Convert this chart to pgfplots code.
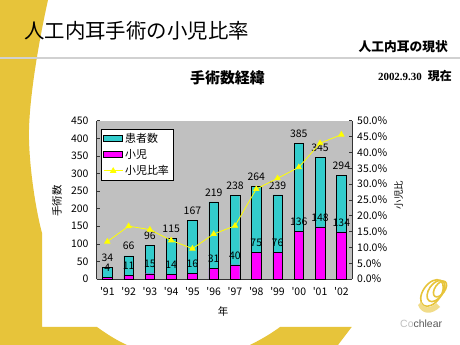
\documentclass[border=0pt]{standalone}
\usepackage{pgfplots}
\pgfplotsset{compat=1.18}
\usepackage{fontspec}
\setmainfont{Noto Sans CJK JP}
\newfontfamily\dateserif{Liberation Serif}
\newfontfamily\logofont{Liberation Sans}
\definecolor{swoosh}{RGB}{231,196,58}
\definecolor{plotbg}{RGB}{192,192,192}
\definecolor{cyanbar}{RGB}{51,204,204}
\definecolor{magbar}{RGB}{255,0,255}
\definecolor{ratioline}{RGB}{255,255,0}
\newcommand\q{\textquotesingle}
\begin{document}
\begin{tikzpicture}
\useasboundingbox (0,0) rectangle (460bp,345bp);
\fill[white] (0,0) rectangle (460bp,345bp);
\begin{scope}[x=1bp,y=1bp]
\fill[swoosh] (0,345) -- (48,345) .. controls (38,300) and (28,240) .. (29,205)
  .. controls (30,170) and (37,130) .. (42,112) -- (42,18) -- (97,18)
  .. controls (108,10) and (118,4) .. (127,0) -- (250,0)
  .. controls (262,6) and (272,12) .. (280,18) -- (351.7,18) -- (338,0) -- (0,0) -- cycle;
\draw[black!18, line width=1.3] (0,287) -- (460,287);
\node[anchor=west, inner sep=0, font=\fontsize{20.5}{22}\selectfont] at (24,314) {人工内耳手術の小児比率};
\node[anchor=east, inner sep=0, font=\fontsize{12.8}{14}\selectfont\bfseries] at (448,298.3) {人工内耳の現状};
\node[inner sep=0, font=\fontsize{15}{16}\selectfont\bfseries] at (227.5,267.5) {手術数経緯};
\node[anchor=east, inner sep=0, font=\fontsize{12}{13}\selectfont\bfseries] at (452,269) {{\dateserif\fontsize{11}{12}\selectfont 2002.9.30}\hspace{6bp}現在};
% logo
\begin{scope}[swoosh, line width=1.6]
\draw[rotate around={-35:(432,52)}] (432,52) ellipse (9 and 15);
\draw[rotate around={-35:(436,54)}] (436,54) ellipse (7 and 12);
\draw[rotate around={-35:(440,56)}] (440,56) ellipse (5 and 9);
\fill[swoosh!60] (418,40) .. controls (422,30) and (432,30) .. (440,38) -- (436,42) .. controls (430,36) and (424,36) .. (421,43) -- cycle;
\end{scope}
\node[anchor=west, inner sep=0, font=\logofont\fontsize{10.5}{11}\selectfont, text=black!65] at (400,21.5) {\textcolor{black!25}{Co}chlear};
% axis labels
\node[rotate=90, font=\fontsize{10.5}{11}\selectfont, inner sep=0] at (57,144) {手術数};
\node[rotate=90, font=\fontsize{9.5}{10}\selectfont, inner sep=0] at (398.5,150) {小児比};
\node[font=\fontsize{10.5}{11}\selectfont, inner sep=0] at (223,33.5) {年};
\end{scope}

\begin{axis}[
  at={(96.7bp,66bp)}, anchor=south west, scale only axis,
  width=255.3bp, height=158.3bp,
  xmin=-0.5, xmax=11.5, ymin=0, ymax=450,
  ytick={0,50,...,450},
  xtick={0,...,11},
  xticklabels={\q91,\q92,\q93,\q94,\q95,\q96,\q97,\q98,\q99,\q00,\q01,\q02},
  axis background/.style={fill=plotbg},
  axis line style={black!80, line width=0.7bp},
  axis y line*=left, axis x line*=bottom,
  tick align=inside, major tick length=3bp,
  x tick style={draw=none},
  y tick style={black!80, line width=0.6bp},
  /pgf/number format/assume math mode=true,
  tick label style={font=\fontsize{10.5}{11}\selectfont, inner sep=0pt},
  yticklabel style={xshift=-8bp},
  xticklabel style={yshift=-8bp},
  legend style={at={(101bp-96.7bp,216bp-66bp)}, anchor=north west, draw=black, line width=0.6bp, fill=white,
    font=\fontsize{11}{12}\selectfont, inner sep=2bp, row sep=1.5bp,
    legend cell align=left},
  clip=false,
]
\addplot[ybar, bar width=9.5bp, bar shift=0pt, fill=cyanbar, draw=black, line width=0.4bp,
  nodes near coords, nodes near coords style={font=\fontsize{10.5}{11}\selectfont, inner sep=0pt, yshift=5.5bp, text=black},
  legend image code/.code={\draw[fill=cyanbar, draw=black, line width=0.6bp] (0bp,-3bp) rectangle (19bp,3bp);}]
  coordinates {(0,34) (1,66) (2,96) (3,115) (4,167) (5,219) (6,238) (7,264) (8,239) (9,385) (10,345) (11,294)};
\addlegendentry{患者数}
\addplot[ybar, bar width=9.5bp, bar shift=0pt, fill=magbar, draw=black, line width=0.4bp,
  nodes near coords, nodes near coords style={font=\fontsize{10.5}{11}\selectfont, inner sep=0pt, yshift=5.5bp, text=black},
  legend image code/.code={\draw[fill=magbar, draw=black, line width=0.6bp] (0bp,-3bp) rectangle (19bp,3bp);}]
  coordinates {(0,4) (1,11) (2,15) (3,14) (4,16) (5,31) (6,40) (7,75) (8,76) (9,136) (10,148) (11,134)};
\addlegendentry{小児}
\addlegendimage{ratioline, line width=0.8bp, mark=triangle*, mark size=3bp, mark options={fill=ratioline, draw=ratioline},
  legend image code/.code={\draw[ratioline, line width=0.8bp] (0bp,0bp) -- (19bp,0bp); \fill[ratioline] (9.5bp,0bp) ++(90:3bp) -- ++(-120:5.2bp) -- ++(0:5.2bp) -- cycle;}}
\addlegendentry{小児比率}
\end{axis}

\begin{axis}[
  at={(96.7bp,66bp)}, anchor=south west, scale only axis,
  width=255.3bp, height=158.3bp,
  xmin=-0.5, xmax=11.5, ymin=0, ymax=50,
  axis y line*=right, axis x line=none,
  ytick={0,5,...,50},
  yticklabel={\pgfmathprintnumber[fixed,fixed zerofill,precision=1]{\tick}\%},
  /pgf/number format/assume math mode=true,
  tick align=inside, major tick length=3bp,
  axis line style={black!80, line width=0.7bp},
  y tick style={black!80, line width=0.6bp},
  tick label style={font=\fontsize{10.5}{11}\selectfont, inner sep=0pt},
  yticklabel style={xshift=5bp},
  clip=false,
]
\addplot[ratioline, line width=0.8bp, mark=triangle*, mark size=3bp, mark options={fill=ratioline, draw=ratioline}]
  coordinates {(0,11.8) (1,16.7) (2,15.6) (3,12.2) (4,9.6) (5,14.2) (6,16.8) (7,28.4) (8,31.8) (9,35.3) (10,42.9) (11,45.6)};
\end{axis}
\end{tikzpicture}
\end{document}
